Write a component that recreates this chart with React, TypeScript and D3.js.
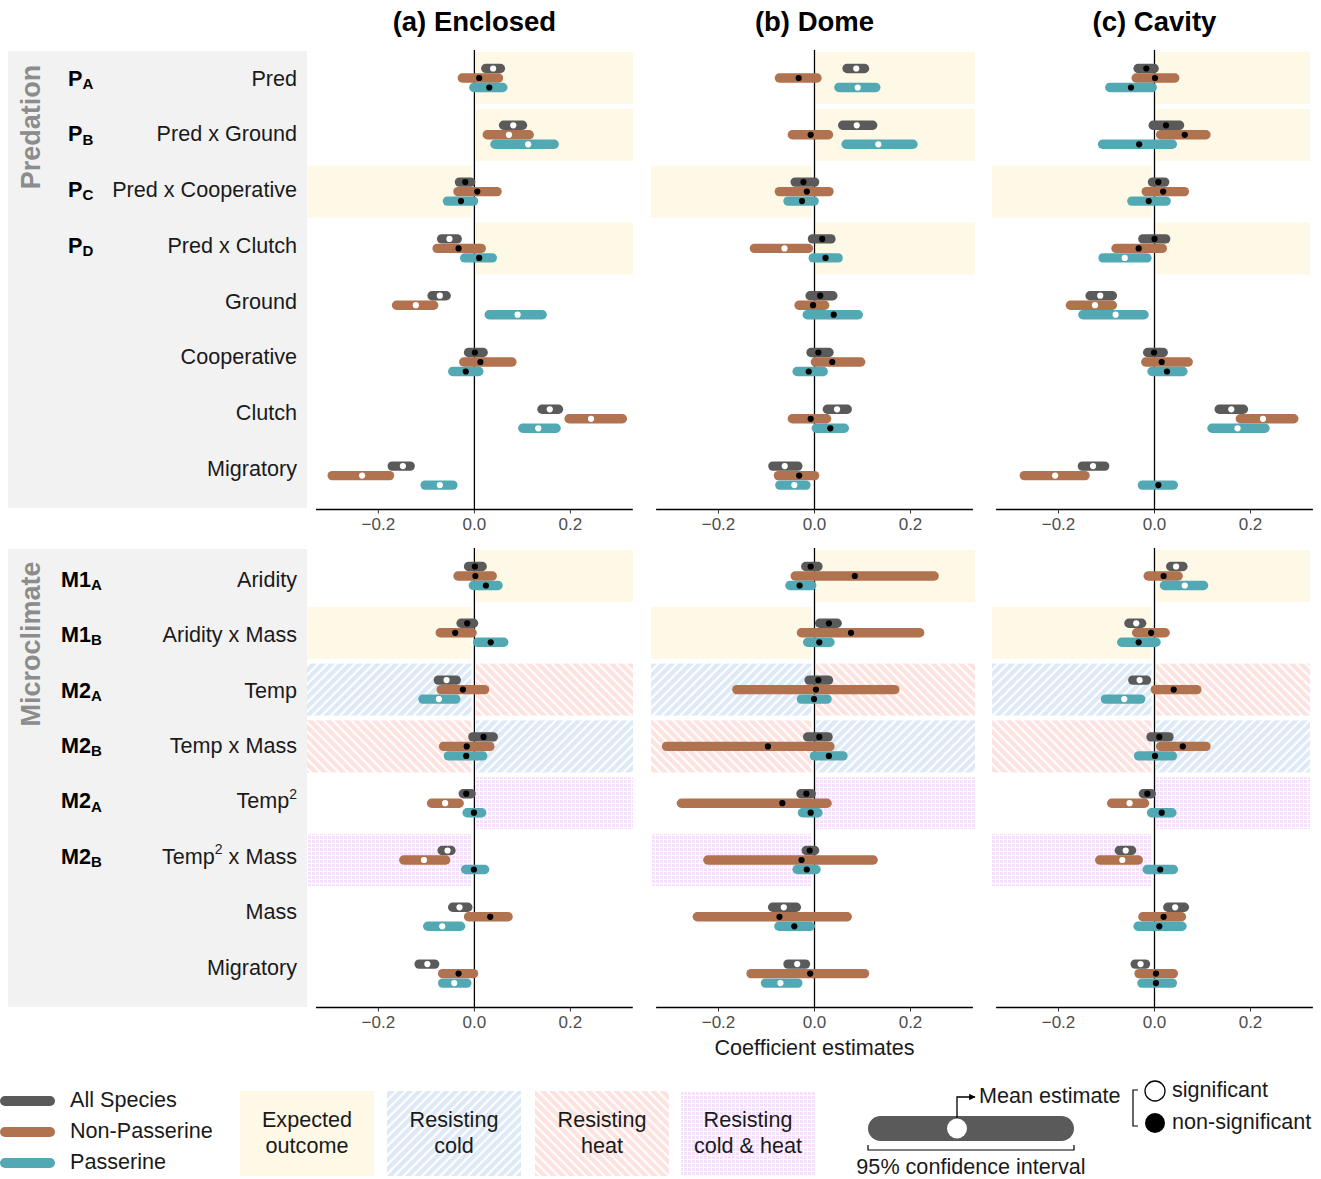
import React from "react";
import * as d3 from "d3";

// ---------- DATA ----------
const panelTitles = ["(a) Enclosed", "(b) Dome", "(c) Cavity"];
const seriesNames = ["All Species", "Non-Passerine", "Passerine"];
const seriesColors = ["#5a5a5a", "#b0724f", "#52a9b3"];

const predRows = ["Pred", "Pred x Ground", "Pred x Cooperative", "Pred x Clutch", "Ground", "Cooperative", "Clutch", "Migratory"];
const predCodes = [["P", "A"], ["P", "B"], ["P", "C"], ["P", "D"]];
const microRows = ["Aridity", "Aridity x Mass", "Temp", "Temp x Mass", "Temp2", "Temp2 x Mass", "Mass", "Migratory"];
const microCodes = [["M1", "A"], ["M1", "B"], ["M2", "A"], ["M2", "B"], ["M2", "A"], ["M2", "B"]];

// band kinds: [left side, right side]
const predBands = [[null, "exp"], [null, "exp"], ["exp", null], [null, "exp"]];
const microBands = [[null, "exp"], ["exp", null], ["cold", "heat"], ["heat", "cold"], [null, "both"], ["both", null]];

const xTicks = [-0.2, 0, 0.2];

// each entry: [lower, mean, upper, significant(1) / non-significant(0)]
const enclosedPredAll = [[0.014, 0.039, 0.064, 1], [0.051, 0.081, 0.11, 1], [-0.041, -0.019, 0.002, 0], [-0.078, -0.052, -0.026, 1], [-0.098, -0.072, -0.049, 1], [-0.022, 0.001, 0.028, 0], [0.131, 0.157, 0.185, 1], [-0.181, -0.149, -0.124, 1]];
const enclosedPredNon = [[-0.035, 0.01, 0.06, 0], [0.017, 0.072, 0.124, 1], [-0.044, 0.006, 0.057, 0], [-0.0875, -0.033, 0.024, 0], [-0.172, -0.122, -0.075, 1], [-0.032, 0.0125, 0.088, 0], [0.1875, 0.243, 0.318, 1], [-0.306, -0.234, -0.167, 1]];
const enclosedPredPas = [[-0.011, 0.031, 0.069, 0], [0.033, 0.112, 0.176, 1], [-0.066, -0.028, 0.008, 0], [-0.03, 0.01, 0.047, 0], [0.021, 0.09, 0.151, 1], [-0.055, -0.018, 0.019, 0], [0.091, 0.133, 0.18, 1], [-0.1125, -0.072, -0.035, 1]];

const domePredAll = [[0.058, 0.087, 0.114, 1], [0.049, 0.088, 0.131, 1], [-0.05, -0.023, 0.01, 0], [-0.014, 0.016, 0.044, 0], [-0.019, 0.012, 0.048, 0], [-0.017, 0.008, 0.04, 0], [0.017, 0.047, 0.078, 1], [-0.0965, -0.062, -0.025, 1]];
const domePredNon = [[-0.083, -0.033, 0.015, 0], [-0.056, -0.008, 0.039, 0], [-0.083, -0.016, 0.04, 0], [-0.135, -0.0625, -0.003, 1], [-0.042, -0.003, 0.031, 0], [-0.008, 0.037, 0.106, 0], [-0.056, -0.008, 0.035, 0], [-0.085, -0.032, 0.01, 0]];
const domePredPas = [[0.041, 0.09, 0.1375, 1], [0.056, 0.133, 0.215, 1], [-0.065, -0.026, 0.009, 0], [-0.0125, 0.023, 0.059, 0], [-0.025, 0.04, 0.101, 0], [-0.046, -0.012, 0.028, 0], [-0.006, 0.033, 0.072, 0], [-0.082, -0.042, -0.008, 1]];

const cavityPredAll = [[-0.044, -0.017, 0.009, 0], [-0.0125, 0.024, 0.062, 0], [-0.014, 0.008, 0.031, 0], [-0.034, 0.0, 0.033, 0], [-0.144, -0.113, -0.078, 1], [-0.024, -0.001, 0.028, 0], [0.125, 0.16, 0.195, 1], [-0.16, -0.128, -0.094, 1]];
const cavityPredNon = [[-0.048, 0.001, 0.052, 0], [0.003, 0.063, 0.117, 0], [-0.027, 0.018, 0.072, 0], [-0.09, -0.033, 0.026, 0], [-0.185, -0.124, -0.078, 1], [-0.028, 0.015, 0.08, 0], [0.169, 0.226, 0.3, 1], [-0.281, -0.207, -0.135, 1]];
const cavityPredPas = [[-0.103, -0.049, 0.005, 0], [-0.118, -0.032, 0.047, 0], [-0.057, -0.012, 0.034, 0], [-0.117, -0.062, -0.006, 1], [-0.159, -0.081, -0.012, 1], [-0.015, 0.026, 0.069, 0], [0.11, 0.173, 0.24, 1], [-0.035, 0.008, 0.049, 0]];

const enclosedMicroAll = [[-0.022, 0.001, 0.026, 0], [-0.0375, -0.015, 0.008, 0], [-0.085, -0.058, -0.028, 1], [-0.013, 0.019, 0.049, 0], [-0.033, -0.017, 0.003, 0], [-0.077, -0.056, -0.039, 1], [-0.055, -0.031, -0.004, 1], [-0.125, -0.098, -0.073, 1]];
const enclosedMicroNon = [[-0.044, 0.002, 0.047, 0], [-0.081, -0.04, 0.005, 0], [-0.079, -0.024, 0.031, 0], [-0.074, -0.016, 0.042, 0], [-0.099, -0.061, -0.022, 1], [-0.157, -0.105, -0.05, 1], [-0.022, 0.033, 0.08, 0], [-0.076, -0.033, 0.008, 0]];
const enclosedMicroPas = [[-0.012, 0.024, 0.059, 0], [-0.003, 0.034, 0.071, 0], [-0.117, -0.074, -0.029, 1], [-0.064, -0.017, 0.027, 0], [-0.025, -0.001, 0.025, 0], [-0.028, -0.001, 0.031, 0], [-0.107, -0.067, -0.019, 1], [-0.076, -0.042, -0.006, 1]];

const domeMicroAll = [[-0.028, -0.008, 0.017, 0], [0.001, 0.03, 0.057, 0], [-0.021, 0.008, 0.039, 0], [-0.024, 0.01, 0.038, 0], [-0.038, -0.017, 0.003, 0], [-0.027, -0.01, 0.01, 0], [-0.097, -0.064, -0.028, 1], [-0.065, -0.036, -0.009, 1]];
const domeMicroNon = [[-0.05, 0.084, 0.259, 0], [-0.037, 0.076, 0.229, 0], [-0.1715, 0.003, 0.177, 0], [-0.318, -0.097, 0.042, 0], [-0.287, -0.067, 0.036, 0], [-0.232, -0.027, 0.132, 0], [-0.254, -0.073, 0.078, 0], [-0.142, -0.009, 0.114, 0]];
const domeMicroPas = [[-0.061, -0.031, 0.004, 0], [-0.024, 0.01, 0.042, 0], [-0.037, -0.001, 0.036, 0], [-0.01, 0.03, 0.069, 0], [-0.035, -0.008, 0.017, 0], [-0.046, -0.016, 0.013, 0], [-0.084, -0.042, 0.001, 0], [-0.112, -0.071, -0.025, 1]];

const cavityMicroAll = [[0.024, 0.045, 0.069, 1], [-0.063, -0.038, -0.017, 1], [-0.055, -0.031, -0.007, 1], [-0.017, 0.01, 0.04, 0], [-0.033, -0.015, 0.003, 0], [-0.083, -0.06, -0.038, 1], [0.018, 0.043, 0.072, 1], [-0.05, -0.029, -0.009, 1]];
const cavityMicroNon = [[-0.023, 0.019, 0.059, 0], [-0.047, -0.007, 0.032, 0], [-0.008, 0.04, 0.098, 0], [0.003, 0.059, 0.117, 0], [-0.099, -0.052, -0.011, 1], [-0.124, -0.067, -0.024, 1], [-0.034, 0.019, 0.066, 0], [-0.042, 0.003, 0.049, 0]];
const cavityMicroPas = [[0.011, 0.063, 0.112, 1], [-0.078, -0.033, 0.013, 0], [-0.112, -0.063, -0.019, 1], [-0.043, 0.001, 0.047, 0], [-0.016, 0.015, 0.046, 0], [-0.025, 0.012, 0.049, 0], [-0.044, 0.01, 0.067, 0], [-0.036, 0.003, 0.047, 0]];

const predData = [
  [enclosedPredAll, enclosedPredNon, enclosedPredPas],
  [domePredAll, domePredNon, domePredPas],
  [cavityPredAll, cavityPredNon, cavityPredPas],
];
const microData = [
  [enclosedMicroAll, enclosedMicroNon, enclosedMicroPas],
  [domeMicroAll, domeMicroNon, domeMicroPas],
  [cavityMicroAll, cavityMicroNon, cavityMicroPas],
];

// ---------- LAYOUT ----------
const W = 1321, H = 1179;
const FONT = "'Liberation Sans', Arial, Helvetica, sans-serif";
const FS = 21.6; // main text size
const zeroX = [474.4, 814.5, 1154.5];
const halfRange = 158.4;
const shadeLeft = [307, 651, 992];
const shadeRight = [633, 975, 1310];
const groups = [
  { rows: predRows, codes: predCodes, bands: predBands, data: predData, yTop: 78, top: 51, bottom: 508, axisY: 509.5, labelY0: 80, labelStep: 55.7, name: "Predation", nameY: 127, codeX: 68 },
  { rows: microRows, codes: microCodes, bands: microBands, data: microData, yTop: 576, top: 549, bottom: 1007, axisY: 1007.5, labelY0: 581, labelStep: 55.4, name: "Microclimate", nameY: 644, codeX: 61 },
];
const rowStep = 56.8;
const barH = 9.4;
const barOff = [-9.5, 0, 9.5];
const bandHalf = 26;

const bandFill: Record<string, string> = {
  exp: "#fef8e6",
  cold: "url(#hatchCold)",
  heat: "url(#hatchHeat)",
  both: "url(#gridBoth)",
};

function rowLabel(name: string) {
  if (name.startsWith("Temp2")) {
    const rest = name.slice(5);
    return (
      <>
        Temp<tspan dy={-8} fontSize={14}>2</tspan><tspan dy={8}>{rest}</tspan>
      </>
    );
  }
  return name;
}

function Defs() {
  return (
    <defs>
      <pattern id="hatchCold" patternUnits="userSpaceOnUse" width={6.5} height={6.5} patternTransform="rotate(45)">
        <rect width={6.5} height={6.5} fill="#ffffff" />
        <rect width={4.3} height={6.5} fill="#dde9f7" />
      </pattern>
      <pattern id="hatchHeat" patternUnits="userSpaceOnUse" width={6.5} height={6.5} patternTransform="rotate(-45)">
        <rect width={6.5} height={6.5} fill="#ffffff" />
        <rect width={4.3} height={6.5} fill="#fde2df" />
      </pattern>
      <pattern id="gridBoth" patternUnits="userSpaceOnUse" width={4} height={4}>
        <rect width={4} height={4} fill="#ffffff" />
        <rect width={3} height={3} fill="#f5e1fb" />
      </pattern>
      <marker id="arrowHead" viewBox="0 0 10 10" refX={9} refY={5} markerWidth={5} markerHeight={5} orient="auto">
        <path d="M0,0 L10,5 L0,10 z" fill="#000" />
      </marker>
    </defs>
  );
}

function Panel({ g, p }: { g: any; p: number }) {
  const x = d3.scaleLinear().domain([-0.33, 0.33]).range([zeroX[p] - halfRange, zeroX[p] + halfRange]);
  const y = d3.scalePoint<number>().domain(d3.range(g.rows.length)).range([g.yTop, g.yTop + rowStep * (g.rows.length - 1)]);
  const z = x(0);
  return (
    <g>
      {g.bands.map((b: (string | null)[], i: number) => (
        <g key={"b" + i}>
          {b[0] && <rect x={shadeLeft[p]} y={y(i)! - bandHalf} width={z - 3 - shadeLeft[p]} height={bandHalf * 2} fill={bandFill[b[0]]} />}
          {b[1] && <rect x={z + 1.6} y={y(i)! - bandHalf} width={shadeRight[p] - z - 1.6} height={bandHalf * 2} fill={bandFill[b[1]]} />}
        </g>
      ))}
      <line x1={z} x2={z} y1={g.top - 1} y2={g.axisY} stroke="#000" strokeWidth={1.3} />
      {g.data[p].map((series: number[][], s: number) =>
        series.map((d: number[], i: number) => {
          const cy = y(i)! + barOff[s];
          return (
            <g key={s + "-" + i}>
              <rect x={x(d[0])} y={cy - barH / 2} width={x(d[2]) - x(d[0])} height={barH} rx={barH / 2} fill={seriesColors[s]} />
              <circle cx={x(d[1])} cy={cy} r={3.1} fill={d[3] ? "#ffffff" : "#000000"} />
            </g>
          );
        })
      )}
      <line x1={x.range()[0]} x2={x.range()[1]} y1={g.axisY} y2={g.axisY} stroke="#000" strokeWidth={1.3} />
      {xTicks.map((t) => (
        <g key={t}>
          <line x1={x(t)} x2={x(t)} y1={g.axisY} y2={g.axisY + 4} stroke="#333" strokeWidth={1} />
          <text x={x(t)} y={g.axisY + 16} textAnchor="middle" dominantBaseline="middle" fontSize={17} fill="#4d4d4d" fontFamily={FONT}>
            {t === 0 ? "0.0" : (t < 0 ? "\u2212" : "") + Math.abs(t).toFixed(1)}
          </text>
        </g>
      ))}
    </g>
  );
}

function LabelColumn({ g }: { g: any }) {
  return (
    <g fontFamily={FONT}>
      <rect x={8} y={g.top} width={299} height={g.bottom - g.top} fill="#f2f2f2" />
      <text transform={`translate(33,${g.nameY}) rotate(-90)`} textAnchor="middle" dominantBaseline="middle" fontSize={27} fontWeight="bold" fill="#8c8c8c">
        {g.name}
      </text>
      {g.rows.map((r: string, i: number) => (
        <text key={r + i} x={297} y={g.labelY0 + i * g.labelStep} textAnchor="end" dominantBaseline="middle" fontSize={FS} fill="#1a1a1a">
          {rowLabel(r)}
        </text>
      ))}
      {g.codes.map((c: string[], i: number) => (
        <text key={"c" + i} x={g.codeX} y={g.labelY0 + i * g.labelStep} dominantBaseline="middle" fontSize={FS} fontWeight="bold" fill="#000">
          {c[0]}<tspan dy={5} fontSize={15}>{c[1]}</tspan>
        </text>
      ))}
    </g>
  );
}

function Legend() {
  const boxes = [
    { x: 240, fill: "#fef8e6", lines: ["Expected", "outcome"] },
    { x: 387, fill: "url(#hatchCold)", lines: ["Resisting", "cold"] },
    { x: 535, fill: "url(#hatchHeat)", lines: ["Resisting", "heat"] },
    { x: 681, fill: "url(#gridBoth)", lines: ["Resisting", "cold & heat"] },
  ];
  return (
    <g fontFamily={FONT} fontSize={FS} fill="#1a1a1a">
      {seriesNames.map((n, i) => (
        <g key={n}>
          <rect x={0} y={1101 + i * 31 - 5} width={55} height={10} rx={5} fill={seriesColors[i]} />
          <text x={70} y={1101 + i * 31} dominantBaseline="middle">{n}</text>
        </g>
      ))}
      {boxes.map((b) => (
        <g key={b.x}>
          <rect x={b.x} y={1091} width={134} height={85} fill={b.fill} />
          <text x={b.x + 67} y={1121} textAnchor="middle" dominantBaseline="middle">{b.lines[0]}</text>
          <text x={b.x + 67} y={1147} textAnchor="middle" dominantBaseline="middle">{b.lines[1]}</text>
        </g>
      ))}
      <rect x={868} y={1116} width={206} height={25} rx={12.5} fill="#5a5a5a" />
      <circle cx={957} cy={1128.5} r={10} fill="#fff" />
      <path d="M957,1118 L957,1097 L975,1097" fill="none" stroke="#000" strokeWidth={1.3} markerEnd="url(#arrowHead)" />
      <text x={979} y={1097} dominantBaseline="middle">Mean estimate</text>
      <path d="M868,1145 L868,1150 L1074,1150 L1074,1145" fill="none" stroke="#000" strokeWidth={1.2} />
      <text x={971} y={1168} textAnchor="middle" dominantBaseline="middle">95% confidence interval</text>
      <path d="M1138,1090 L1133,1090 L1133,1126 L1138,1126" fill="none" stroke="#000" strokeWidth={1.2} />
      <circle cx={1155} cy={1091} r={10} fill="#fff" stroke="#000" strokeWidth={1.3} />
      <circle cx={1155} cy={1123} r={10} fill="#000" />
      <text x={1172} y={1091} dominantBaseline="middle">significant</text>
      <text x={1172} y={1123} dominantBaseline="middle">non-significant</text>
    </g>
  );
}

export default function App() {
  return (
    <svg width={W} height={H} viewBox={`0 0 ${W} ${H}`} style={{ position: "absolute", left: 0, top: 0, background: "#fff" }}>
      <Defs />
      <rect width={W} height={H} fill="#fff" />
      {panelTitles.map((t, p) => (
        <text key={t} x={zeroX[p]} y={24} textAnchor="middle" dominantBaseline="middle" fontSize={27.5} fontWeight="bold" fontFamily={FONT} fill="#000">
          {t}
        </text>
      ))}
      {groups.map((g, gi) => (
        <g key={gi}>
          <LabelColumn g={g} />
          {[0, 1, 2].map((p) => <Panel key={p} g={g} p={p} />)}
        </g>
      ))}
      <text x={zeroX[1]} y={1049} textAnchor="middle" dominantBaseline="middle" fontSize={FS} fontFamily={FONT} fill="#1a1a1a">
        Coefficient estimates
      </text>
      <Legend />
    </svg>
  );
}
